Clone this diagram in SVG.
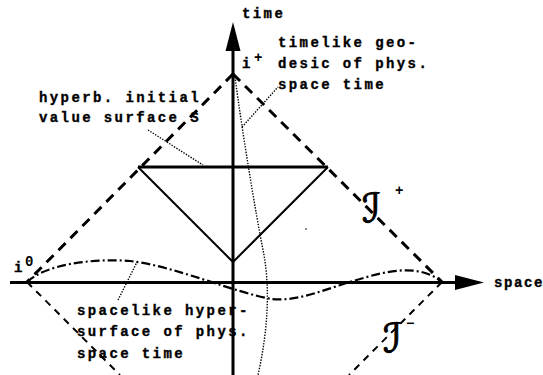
<svg xmlns="http://www.w3.org/2000/svg" width="543" height="375" viewBox="0 0 543 375">
<style>
.t{font-family:"Liberation Mono","Courier New",monospace;font-weight:bold;font-size:14px;letter-spacing:2.4px;fill:#000;stroke:#000;stroke-width:0.35}
.scri{font-family:"DejaVu Serif","DejaVu Sans",serif;font-style:italic;font-size:40px;fill:#000;stroke:#000;stroke-width:1}
.sup{font-family:"Liberation Mono",monospace;font-weight:bold;font-size:14px;fill:#000}
.axis{stroke:#000;stroke-width:3;fill:none}
.nullU{stroke:#000;stroke-width:3;fill:none;stroke-dasharray:10 7}
.nullL{stroke:#000;stroke-width:2;fill:none;stroke-dasharray:7 6}
.tri{stroke:#000;stroke-width:2;fill:none}
.dot{stroke:#000;stroke-width:1.4;fill:none;stroke-dasharray:1.4 1.4}
.dd{stroke:#000;stroke-width:2.2;fill:none;stroke-dasharray:9 3 2 3}
</style>
<rect width="543" height="375" fill="#fff"/>
<g id="connectors">
  <path class="axis" d="M233,375 V48"/>
  <polygon points="233,22 225.5,51 240.5,51" fill="#000"/>
  <path class="axis" d="M10,282.5 H457"/>
  <polygon points="484,282.5 455,275 455,290" fill="#000"/>
  <path class="nullU" d="M233,74 L27,282"/>
  <path class="nullU" d="M233,74 L442,282"/>
  <path class="nullL" d="M27,282 L120,375"/>
  <path class="nullL" d="M442,282 L349,375"/>
  <path class="tri" d="M138,167 L233,262 L328,167"/>
  <path class="axis" d="M138,167 H328"/>
  <path class="dd" d="M27,282 C45,265 90,258 130,261 C175,266 235,293 272,299 C300,302 330,287 360,279 C390,270 420,264 442,282"/>
  <path class="dot" d="M235,77 C242,130 255,210 264,255 C270,290 268,330 258,375"/>
  <path class="dot" d="M148,130 L203,165"/>
  <path class="dot" d="M242,127 L278,87"/>
  <path class="dot" d="M118,300 L137,262"/>
  <circle cx="306" cy="229" r="0.8" fill="#000"/>
</g>
<g id="time-label"><text class="t" x="242" y="18">time</text></g>
<g id="space-label"><text class="t" x="494" y="287" style="letter-spacing:1.6px">space</text></g>
<g id="i-plus"><text class="t" x="242" y="68">i</text><text class="sup" x="254" y="62">+</text></g>
<g id="i-zero"><text class="t" x="14" y="272">i</text><text class="sup" x="25" y="266">0</text></g>
<g id="scri-plus"><text class="scri" x="362" y="222">ℐ</text><text class="sup" x="395" y="195">+</text></g>
<g id="scri-minus"><text class="scri" x="383" y="352">ℐ</text><text class="sup" x="406" y="328">−</text></g>
<g id="initial-surface">
  <text class="t" x="39" y="102">hyperb. initial</text>
  <text class="t" x="39" y="122">value surface S</text>
</g>
<g id="geodesic">
  <text class="t" x="278" y="47">timelike geo-</text>
  <text class="t" x="278" y="68">desic of phys.</text>
  <text class="t" x="278" y="89">space time</text>
</g>
<g id="spacelike">
  <text class="t" x="77" y="315">spacelike hyper-</text>
  <text class="t" x="77" y="336">surface of phys.</text>
  <text class="t" x="77" y="358">space time</text>
</g>
</svg>
